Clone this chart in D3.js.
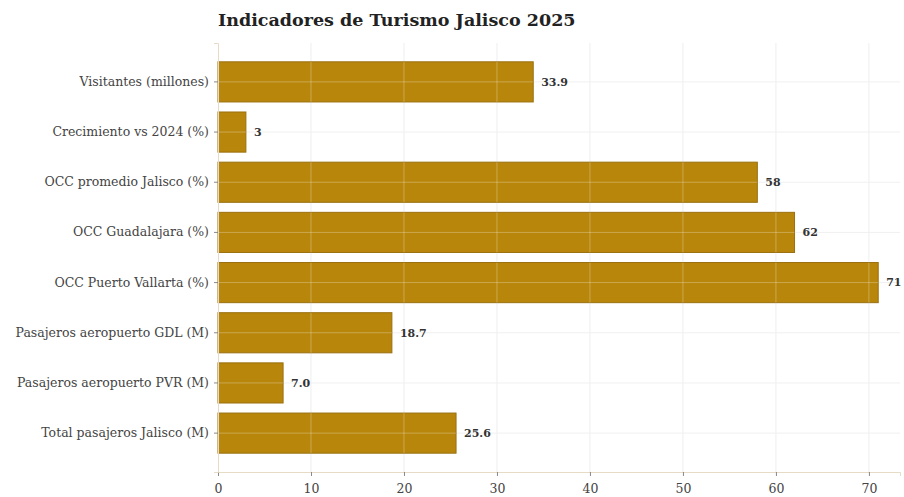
<!DOCTYPE html>
<html>
<head>
<meta charset="utf-8">
<script src="https://cdn.jsdelivr.net/npm/d3@7"></script>
<style>
  body { margin: 0; background: #ffffff; }
  svg { display: block; }
</style>
</head>
<body>
<div id="chart"></div>
<script>
// Tourism indicators for Jalisco, 2025
const categories = [
  "Visitantes (millones)",
  "Crecimiento vs 2024 (%)",
  "OCC promedio Jalisco (%)",
  "OCC Guadalajara (%)",
  "OCC Puerto Vallarta (%)",
  "Pasajeros aeropuerto GDL (M)",
  "Pasajeros aeropuerto PVR (M)",
  "Total pasajeros Jalisco (M)"
];
const values = [33.9, 3, 58, 62, 71, 18.7, 7.0, 25.6];
const valueLabels = ["33.9", "3", "58", "62", "71", "18.7", "7.0", "25.6"];
const xTicks = [0, 10, 20, 30, 40, 50, 60, 70];
const title = "Indicadores de Turismo Jalisco 2025";

const width = 904, height = 497;
const margin = { top: 43, right: 4, bottom: 25, left: 218 };
const serif = "Georgia, 'DejaVu Serif', 'Liberation Serif', serif";

const svg = d3.select("#chart").append("svg")
  .attr("width", width)
  .attr("height", height);

const x = d3.scaleLinear()
  .domain([0, d3.max(values) * 1.033])
  .range([margin.left, width - margin.right]);

const y = d3.scaleBand()
  .domain(categories)
  .range([margin.top, height - margin.bottom])
  .paddingInner(0.2)
  .paddingOuter(0.375);

// Background grid
const grid = svg.append("g");
grid.selectAll("line.vx").data(xTicks.slice(1)).join("line")
  .attr("class", "vx")
  .attr("x1", d => x(d)).attr("x2", d => x(d))
  .attr("y1", margin.top).attr("y2", height - margin.bottom)
  .attr("stroke", "#eeeeee").attr("stroke-width", 1);
grid.selectAll("line.hy").data(categories).join("line")
  .attr("class", "hy")
  .attr("x1", margin.left).attr("x2", width - margin.right)
  .attr("y1", d => y(d) + y.bandwidth() / 2).attr("y2", d => y(d) + y.bandwidth() / 2)
  .attr("stroke", "#f0f0f0").attr("stroke-width", 1);

// Bars
svg.append("g").selectAll("rect").data(values).join("rect")
  .attr("x", x(0))
  .attr("y", (d, i) => y(categories[i]))
  .attr("width", d => x(d) - x(0))
  .attr("height", y.bandwidth())
  .attr("fill", "#b8860b")
  .attr("stroke", "#9a7010")
  .attr("stroke-width", 1);

// Grid lines showing through the bars
const overlay = svg.append("g");
values.forEach((v, i) => {
  const top = y(categories[i]), bw = y.bandwidth();
  overlay.selectAll(null).data(xTicks.filter(t => t > 0 && t < v)).join("line")
    .attr("x1", d => x(d)).attr("x2", d => x(d))
    .attr("y1", top).attr("y2", top + bw)
    .attr("stroke", "#ffffff").attr("stroke-opacity", 0.28);
  overlay.append("line")
    .attr("x1", x(0)).attr("x2", x(v))
    .attr("y1", top + bw / 2).attr("y2", top + bw / 2)
    .attr("stroke", "#ffffff").attr("stroke-opacity", 0.28);
});

// Value labels
svg.append("g").selectAll("text").data(values).join("text")
  .attr("x", d => x(d) + 8)
  .attr("y", (d, i) => y(categories[i]) + y.bandwidth() / 2)
  .attr("dy", "0.35em")
  .attr("font-family", serif)
  .attr("font-size", 11)
  .attr("font-weight", "bold")
  .attr("fill", "#333333")
  .text((d, i) => valueLabels[i]);

// Axes
const xAxis = svg.append("g")
  .attr("transform", `translate(0,${height - margin.bottom})`)
  .call(d3.axisBottom(x).tickValues(xTicks).tickSize(4).tickPadding(8));
const yAxis = svg.append("g")
  .attr("transform", `translate(${margin.left},0)`)
  .call(d3.axisLeft(y).tickSize(4).tickPadding(5));

[xAxis, yAxis].forEach(a => {
  a.select(".domain").attr("stroke", "#e6dcc6");
  a.selectAll(".tick line").attr("stroke", "#888888");
  a.selectAll(".tick text")
    .attr("font-family", serif)
    .attr("font-size", 12.5)
    .attr("fill", "#444444");
});

// Title
svg.append("text")
  .attr("x", margin.left)
  .attr("y", 26)
  .attr("font-family", serif)
  .attr("font-size", 17.5)
  .attr("font-weight", "bold")
  .attr("fill", "#222222")
  .text(title);
</script>
</body>
</html>
